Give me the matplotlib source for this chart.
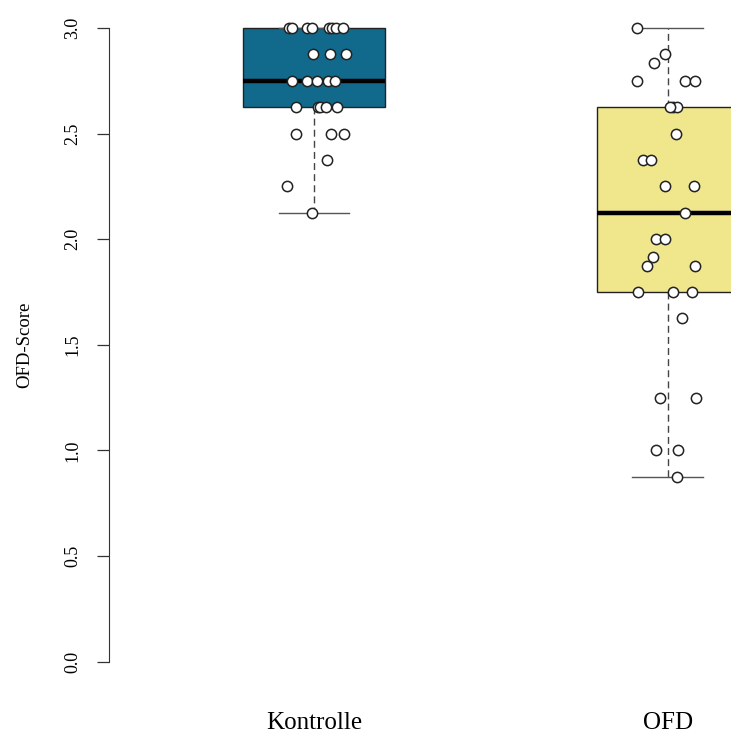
import numpy as np
import matplotlib.pyplot as plt

plt.rcParams['font.family'] = ['Liberation Serif', 'DejaVu Serif']

groups = ['Kontrolle', 'OFD']
box_colors = ['#11698C', '#F0E68C']

kontrolle = [3.0, 3.0, 3.0, 3.0, 3.0, 3.0, 3.0, 3.0,
             2.875, 2.875, 2.875,
             2.75, 2.75, 2.75, 2.75, 2.75,
             2.625, 2.625, 2.625, 2.625, 2.625,
             2.5, 2.5, 2.5,
             2.375, 2.25, 2.125]
kontrolle_jitter = [-0.070, -0.063, -0.019, -0.006, 0.043, 0.050, 0.062, 0.083,
                    -0.004, 0.045, 0.090,
                    -0.061, -0.019, 0.010, 0.039, 0.060,
                    -0.052, 0.012, 0.017, 0.034, 0.064,
                    -0.052, 0.048, 0.086,
                    0.037, -0.075, -0.005]

ofd = [3.0, 2.875, 2.833,
       2.75, 2.75, 2.75,
       2.625, 2.625, 2.625,
       2.5,
       2.375, 2.375,
       2.25, 2.25,
       2.125,
       2.0, 2.0,
       1.917,
       1.875, 1.875,
       1.75, 1.75, 1.75,
       1.625,
       1.25, 1.25,
       1.0, 1.0,
       0.875]
ofd_jitter = [-0.088, -0.008, -0.040,
              -0.088, 0.048, 0.076,
              0.015, 0.025, 0.006,
              0.022,
              -0.070, -0.046,
              -0.008, 0.074,
              0.048,
              -0.034, -0.008,
              -0.042,
              -0.060, 0.076,
              -0.084, 0.015, 0.069,
              0.040,
              -0.021, 0.079,
              -0.032, 0.029,
              0.025]

data = [kontrolle, ofd]
jitters = [kontrolle_jitter, ofd_jitter]
yticks = [0.0, 0.5, 1.0, 1.5, 2.0, 2.5, 3.0]

fig = plt.figure(figsize=(7.31, 7.36), dpi=100)
ax = fig.add_axes([108.7 / 731, 49 / 736, 764.3 / 731, 684.4 / 736])

bp = ax.boxplot(data, positions=[1, 2], widths=0.4, patch_artist=True,
                whis=1.5, showfliers=False,
                medianprops=dict(color='black', linewidth=3.2),
                boxprops=dict(edgecolor='#222222', linewidth=1.0),
                whiskerprops=dict(color='#444444', linewidth=1.0, linestyle=(0, (5, 3))),
                capprops=dict(color='#555555', linewidth=1.0),
                capwidths=0.2)
for patch, c in zip(bp['boxes'], box_colors):
    patch.set_facecolor(c)

for i, (vals, jit) in enumerate(zip(data, jitters)):
    xs = np.array(jit) + i + 1
    ax.plot(xs, vals, 'o', markersize=7.4, markerfacecolor='white',
            markeredgecolor='#222222', markeredgewidth=1.1, zorder=5)

ax.set_xlim(0.42, 2.58)
ax.set_ylim(-0.12, 3.12)
for s in ['top', 'right', 'bottom']:
    ax.spines[s].set_visible(False)
ax.spines['left'].set_bounds(0, 3)
ax.spines['left'].set_color('#333333')

ax.set_yticks(yticks)
ax.set_yticklabels(['%.1f' % t for t in yticks], rotation=90, va='center', fontsize=13)
ax.tick_params(axis='y', length=9, width=0.9, color='#333333', pad=11)
ax.set_xticks([1, 2])
ax.set_xticklabels(groups, fontsize=18)
ax.tick_params(axis='x', length=0, pad=18)

fig.text(25 / 731, 1 - 345 / 736, 'OFD-Score', rotation=90, ha='center', va='center', fontsize=13.5)

fig.savefig('out.png', dpi=100)
